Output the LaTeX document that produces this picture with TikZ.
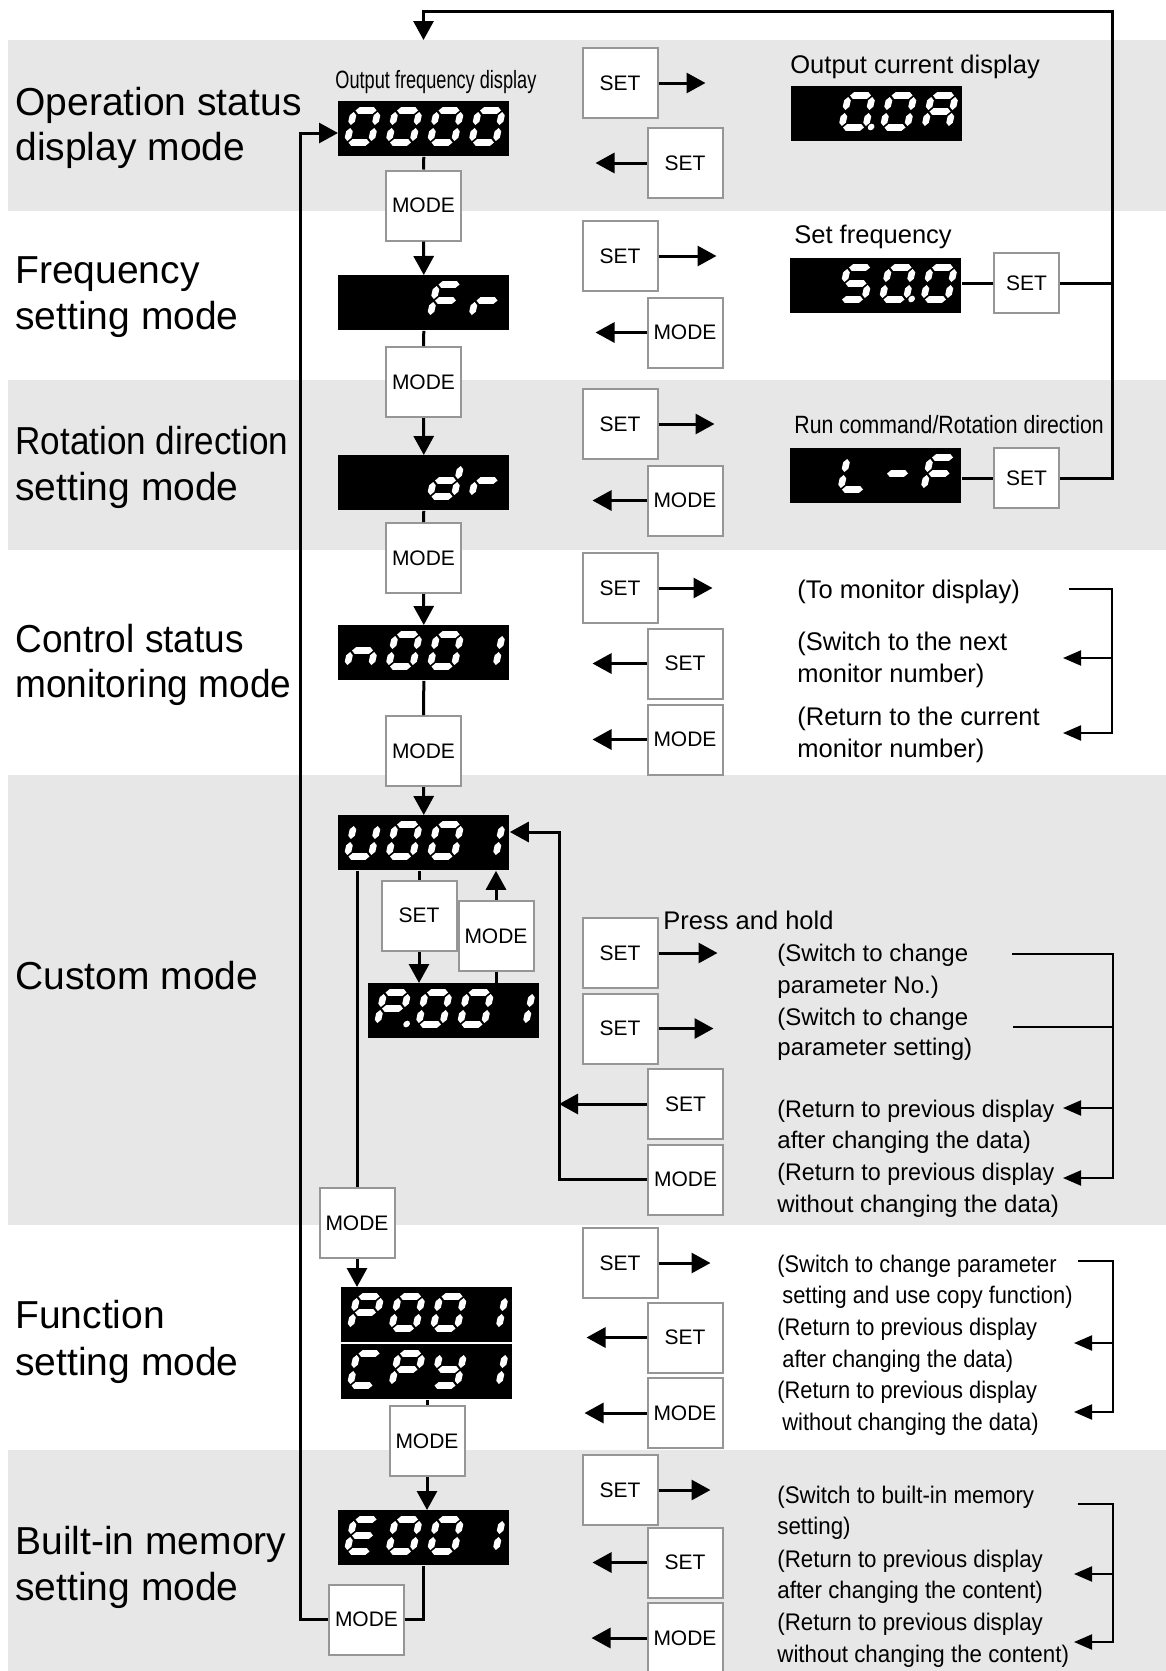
\documentclass[tikz,border=0pt]{standalone}
\usepackage{fontspec}
\setmainfont{Liberation Sans}
\usepackage{graphicx}
\usetikzlibrary{arrows.meta,calc}
\definecolor{bandgray}{RGB}{231,231,231}
\definecolor{btnedge}{RGB}{150,150,150}
% seven-segment helpers (local units, y up)
\newcommand\segt{3.3}
\newcommand\hseg[3]{\fill[white] (#1,#3) -- (#1+\segt,#3+\segt) -- (#2-\segt,#3+\segt) -- (#2,#3) -- (#2-\segt,#3-\segt) -- (#1+\segt,#3-\segt) -- cycle;}
\newcommand\vseg[3]{\fill[white] (#1,#2) -- (#1+\segt,#2+\segt) -- (#1+\segt,#3-\segt) -- (#1,#3) -- (#1-\segt,#3-\segt) -- (#1-\segt,#2+\segt) -- cycle;}
\newcommand\segA{\hseg{1.5}{22.5}{32}}
\newcommand\segG{\hseg{1.5}{22.5}{16}}
\newcommand\segD{\hseg{1.5}{22.5}{0}}
\newcommand\segB{\vseg{24}{17.5}{30.5}}
\newcommand\segC{\vseg{24}{1.5}{14.5}}
\newcommand\segE{\vseg{0}{1.5}{14.5}}
\newcommand\segF{\vseg{0}{17.5}{30.5}}
\newcommand\segDP{\fill[white] (29.5,0.5) circle (3.3);}
\newcommand\chzero{\segA\segB\segC\segD\segE\segF}
\newcommand\chone{\segB\segC}
\newcommand\chfive{\segA\segF\segG\segC\segD}
\newcommand\chbigA{\segA\segB\segC\segE\segF\segG}
\newcommand\chbigC{\segA\segD\segE\segF}
\newcommand\chsmalld{\segB\segC\segD\segE\segG}
\newcommand\chbigE{\segA\segD\segE\segF\segG}
\newcommand\chbigF{\segA\segE\segF\segG}
\newcommand\chbigL{\segD\segE\segF}
\newcommand\chsmalln{\segC\segE\segG}
\newcommand\chbigP{\segA\segB\segE\segF\segG}
\newcommand\chsmallr{\segE\segG}
\newcommand\chbigU{\segB\segC\segD\segE\segF}
\newcommand\chsmally{\segB\segC\segD\segF\segG}
\newcommand\chdash{\segG}
\newcommand\dig[3]{\begin{scope}[shift={(#1,#2)},x=0.5pt,y=0.5pt,xslant=0.22]#3\end{scope}}
\newcommand\disp[7]{%
  \node[dispbox] (#1) at (#2,#3) {};
  \dig{#2+9}{#3+41.5}{#4}\dig{#2+50.5}{#3+41.5}{#5}\dig{#2+92}{#3+41.5}{#6}\dig{#2+133.5}{#3+41.5}{#7}}
\newcommand\rarr[3]{\path (#1.east) ++(#2,0) coordinate (#3); \draw[flowarrow] (#1.east) -- (#3);}
\newcommand\larr[3]{\path (#1.west) ++(-#2,0) coordinate (#3); \draw[flowarrow] (#1.west) -- (#3);}
\tikzset{
  dispbox/.style={fill=black, draw=none, minimum width=85.5pt, minimum height=27.5pt, inner sep=0pt, anchor=north west},
  btn/.style={draw=btnedge, line width=1pt, fill=white, minimum width=37.5pt, minimum height=35pt, inner sep=0pt, font=\fontsize{10.5}{12}\selectfont},
  sbtn/.style={btn, minimum width=32.5pt, minimum height=30pt},
  flow/.style={line width=1.5pt},
  flowarrow/.style={line width=1.5pt, -{Triangle[length=9.5pt,width=10pt]}},
  brk/.style={line width=1pt},
  brkarrow/.style={line width=1pt, -{Triangle[length=9pt,width=7.5pt]}},
  lbl/.style={anchor=base west, inner sep=0pt, font=\fontsize{19.5}{22}\selectfont},
  note/.style={anchor=base west, inner sep=0pt, font=\fontsize{12.75}{15}\selectfont},
  snote/.style={anchor=base west, inner sep=0pt, font=\fontsize{12}{14}\selectfont},
}
\begin{document}
\begin{tikzpicture}[x=0.5pt,y=-0.5pt]
\useasboundingbox (0,0) rectangle (1166,1671);
\fill[bandgray] (7.5,40) rectangle (1166,211);
\fill[bandgray] (7.5,380) rectangle (1166,550);
\fill[bandgray] (7.5,775) rectangle (1166,1225);
\fill[bandgray] (7.5,1450) rectangle (1166,1671);

% left labels
\node[lbl] (L1a) at (15,115) {Operation status};
\node[lbl] (L1b) at (15,160) {display mode};
\node[lbl] (L2a) at (15,283) {Frequency};
\node[lbl] (L2b) at (15,329) {setting mode};
\node[lbl] (L3a) at (15,454) {\scalebox{0.9}[1]{Rotation direction}};
\node[lbl] (L3b) at (15,500) {setting mode};
\node[lbl] (L4a) at (15,652) {\scalebox{0.95}[1]{Control status}};
\node[lbl] (L4b) at (15,697) {\scalebox{0.95}[1]{monitoring mode}};
\node[lbl] (L5) at (15,989) {Custom mode};
\node[lbl] (L6a) at (15,1328) {Function};
\node[lbl] (L6b) at (15,1375) {setting mode};
\node[lbl] (L7a) at (15,1554) {Built-in memory};
\node[lbl] (L7b) at (15,1600) {setting mode};

% displays
\disp{d0}{338}{101}{\chzero}{\chzero}{\chzero}{\chzero}
\disp{dFr}{338}{275}{}{}{\chbigF}{\chsmallr}
\disp{ddr}{338}{455}{}{}{\chsmalld}{\chsmallr}
\disp{dn}{338}{625}{\chsmalln}{\chzero}{\chzero}{\chone}
\disp{dU}{338}{815}{\chbigU}{\chzero}{\chzero}{\chone}
\disp{dP}{368}{983}{\chbigP\segDP}{\chzero}{\chzero}{\chone}
\disp{dPa}{341}{1287}{\chbigP}{\chzero}{\chzero}{\chone}
\disp{dC}{341}{1344}{\chbigC}{\chbigP}{\chsmally}{\chone}
\disp{dE}{338}{1510}{\chbigE}{\chzero}{\chzero}{\chone}
\disp{dA}{791}{86}{}{\chzero\segDP}{\chzero}{\chbigA}
\disp{dF}{790}{258}{}{\chfive}{\chzero\segDP}{\chzero}
\disp{dLF}{790}{448}{}{\chbigL}{\chdash}{\chbigF}

% display captions
\node[anchor=base west, inner sep=0pt, font=\fontsize{12.5}{14}\selectfont] (cOF) at (335,88) {\scalebox{0.727}[1]{Output frequency display}};
\node[note] (cOC) at (790,73) {Output current display};
\node[note] (cSF) at (794,243) {Set frequency};
\node[anchor=base west, inner sep=0pt, font=\fontsize{12.5}{14}\selectfont] (cRC) at (794,433) {\scalebox{0.85}[1]{Run command/Rotation direction}};

% centre column buttons
\node[btn] (m1) at (423.5,205.5) {MODE};
\node[btn] (m2) at (423.5,382) {MODE};
\node[btn] (m3) at (423.5,558) {MODE};
\node[btn] (m4) at (423.5,751) {MODE};
\node[btn] (sU) at (419,915.5) {SET};
\node[btn] (mU) at (496,936) {MODE};
\node[btn] (m5) at (357,1223) {MODE};
\node[btn] (m6) at (427,1441) {MODE};
\node[btn] (m7) at (366.5,1619.5) {MODE};

% right column buttons
\node[btn] (s1a) at (620,83) {SET};
\node[btn] (s1b) at (685,163) {SET};
\node[btn] (s2a) at (620,256) {SET};
\node[btn] (m2b) at (685,332.5) {MODE};
\node[btn] (s3a) at (620,424) {SET};
\node[btn] (m3b) at (685,500.5) {MODE};
\node[btn] (s4a) at (620,588) {SET};
\node[btn] (s4b) at (685,663.5) {SET};
\node[btn] (m4c) at (685,739.5) {MODE};
\node[btn] (s5a) at (620,953) {SET};
\node[btn] (s5b) at (620,1028.5) {SET};
\node[btn] (s5c) at (685.5,1104) {SET};
\node[btn] (m5d) at (685.5,1179.5) {MODE};
\node[btn] (s6a) at (620,1263) {SET};
\node[btn] (s6b) at (685,1337.5) {SET};
\node[btn] (m6c) at (685,1413) {MODE};
\node[btn] (s7a) at (620,1490) {SET};
\node[btn] (s7b) at (685,1562.5) {SET};
\node[btn] (m7c) at (685,1638) {MODE};
\node[sbtn] (sf) at (1026.5,283) {SET};
\node[sbtn] (slf) at (1026.5,478) {SET};

% centre flow
\draw[flow] (d0) -- (m1);
\draw[flowarrow] (m1) -- (dFr);
\draw[flow] (dFr) -- (m2);
\draw[flowarrow] (m2) -- (ddr);
\draw[flow] (ddr) -- (m3);
\draw[flowarrow] (m3) -- (dn);
\draw[flow] (dn) -- (m4);
\draw[flowarrow] (m4) -- (dU);
\draw[flow] (dU.south -| sU) -- (sU);
\draw[flowarrow] (sU) -- (sU |- dP.north);
\draw[flow] (dP.north -| mU) -- (mU);
\draw[flowarrow] (mU) -- (mU |- dU.south);
\draw[flow] (dU.south -| m5) -- (m5);
\draw[flowarrow] (m5) -- (m5 |- dPa.north);
\draw[flow] (dC.south -| m6) -- (m6);
\draw[flowarrow] (m6) -- (m6 |- dE.north);
\draw[flow] (dE.south) |- (m7.east);
\coordinate (lp) at (300,133);
\draw[flowarrow] (m7.west) -| (lp) -- (lp -| d0.west);

% top loop
\coordinate (tr) at (1112,11);
\coordinate (te) at (423.5,40);
\draw[flow] (dF.east |- sf.west) -- (sf.west);
\draw[flow] (dLF.east |- slf.west) -- (slf.west);
\draw[flowarrow] (slf.east) -| (tr) -| (te);
\draw[flow] (sf.east) -- (sf.east -| tr);

% custom return
\coordinate (rx) at (559,832);
\draw[flowarrow] (m5d.west) -| (rx) -- (rx -| dU.east);
\draw[flowarrow] (s5c.west) -- (s5c.west -| rx);

% right arrows
\rarr{s1a}{47}{t1a}
\larr{s1b}{51}{t1b}
\rarr{s2a}{58}{t2a}
\larr{m2b}{51}{t2b}
\rarr{s3a}{56}{t3a}
\larr{m3b}{54}{t3b}
\rarr{s4a}{54}{t4a}
\larr{s4b}{54}{t4b}
\larr{m4c}{54}{t4c}
\rarr{s5a}{59}{t5a}
\rarr{s5b}{55}{t5b}
\rarr{s6a}{52}{t6a}
\larr{s6b}{60}{t6b}
\larr{m6c}{62}{t6c}
\rarr{s7a}{52}{t7a}
\larr{s7b}{54}{t7b}
\larr{m7c}{55}{t7c}

% control texts
\node[note] (x41) at (797,598) {(To monitor display)};
\node[note] (x42) at (797,650) {(Switch to the next};
\node[note] (x43) at (797,682) {monitor number)};
\node[note] (x44) at (797,725) {(Return to the current};
\node[note] (x45) at (797,757) {monitor number)};
% custom texts
\node[note] (x50) at (663,929) {Press and hold};
\node[snote] (x51) at (777,961) {(Switch to change};
\node[snote] (x52) at (777,993) {parameter No.)};
\node[snote] (x53) at (777,1025) {(Switch to change};
\node[snote] (x54) at (777,1055) {parameter setting)};
\node[snote] (x55) at (777,1117) {\scalebox{0.97}[1]{(Return to previous display}};
\node[snote] (x56) at (777,1148) {after changing the data)};
\node[snote] (x57) at (777,1180) {\scalebox{0.97}[1]{(Return to previous display}};
\node[snote] (x58) at (777,1212) {without changing the data)};
% function texts
\node[snote] (x61) at (777,1272) {\scalebox{0.91}[1]{(Switch to change parameter}};
\node[snote] (x62) at (782,1303) {\scalebox{0.91}[1]{setting and use copy function)}};
\node[snote] (x63) at (777,1335) {\scalebox{0.91}[1]{(Return to previous display}};
\node[snote] (x64) at (782,1367) {\scalebox{0.91}[1]{after changing the data)}};
\node[snote] (x65) at (777,1398) {\scalebox{0.91}[1]{(Return to previous display}};
\node[snote] (x66) at (782,1430) {\scalebox{0.91}[1]{without changing the data)}};
% built-in texts
\node[snote] (x71) at (777,1503) {\scalebox{0.93}[1]{(Switch to built-in memory}};
\node[snote] (x72) at (777,1534) {\scalebox{0.93}[1]{setting)}};
\node[snote] (x73) at (777,1567) {\scalebox{0.93}[1]{(Return to previous display}};
\node[snote] (x74) at (777,1598) {\scalebox{0.93}[1]{after changing the content)}};
\node[snote] (x75) at (777,1630) {\scalebox{0.93}[1]{(Return to previous display}};
\node[snote] (x76) at (777,1662) {\scalebox{0.93}[1]{without changing the content)}};

% brackets
\coordinate (b4s) at (1069,589);
\coordinate (b4e) at (1112,733);
\coordinate (b4m) at (1112,658);
\draw[brkarrow] (b4s) -| (b4e) -- ++(-49,0);
\draw[brkarrow] (b4m) -- ++(-49,0);
\coordinate (b5s) at (1012,954);
\coordinate (b5t) at (1013,1027);
\coordinate (b5e) at (1113,1178);
\coordinate (b5m) at (1113,1108);
\draw[brkarrow] (b5s) -| (b5e) -- ++(-50,0);
\draw[brk] (b5t) -- (b5t -| b5e);
\draw[brkarrow] (b5m) -- ++(-50,0);
\coordinate (b6s) at (1078,1261);
\coordinate (b6e) at (1113,1412);
\coordinate (b6m) at (1113,1343);
\draw[brkarrow] (b6s) -| (b6e) -- ++(-39,0);
\draw[brkarrow] (b6m) -- ++(-39,0);
\coordinate (b7s) at (1078,1504);
\coordinate (b7e) at (1113,1642);
\coordinate (b7m) at (1113,1574);
\draw[brkarrow] (b7s) -| (b7e) -- ++(-39,0);
\draw[brkarrow] (b7m) -- ++(-39,0);
\end{tikzpicture}
\end{document}
